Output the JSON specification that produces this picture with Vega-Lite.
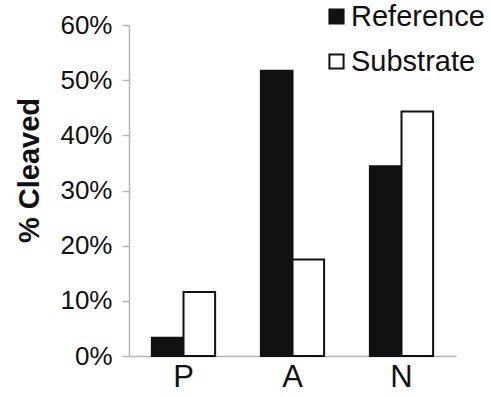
{
  "$schema": "https://vega.github.io/schema/vega-lite/v6.json",
  "width": 327,
  "height": 331,
  "autosize": {"type": "none"},
  "padding": {"left": 129, "top": 25, "right": 35, "bottom": 41},
  "background": "white",
  "config": {
    "view": {"stroke": null},
    "font": "Liberation Sans"
  },
  "data": {
    "values": [
      {"site": "P", "type": "Reference", "value": 0.033},
      {"site": "P", "type": "Substrate", "value": 0.116},
      {"site": "A", "type": "Reference", "value": 0.517},
      {"site": "A", "type": "Substrate", "value": 0.175},
      {"site": "N", "type": "Reference", "value": 0.344},
      {"site": "N", "type": "Substrate", "value": 0.443}
    ]
  },
  "mark": {"type": "bar", "stroke": "#111", "strokeWidth": 2},
  "encoding": {
    "x": {
      "field": "site",
      "type": "nominal",
      "sort": ["P", "A", "N"],
      "scale": {"paddingInner": 0.42, "paddingOuter": 0.21},
      "axis": {
        "title": null,
        "labelAngle": 0,
        "labelFontSize": 31,
        "labelColor": "#111",
        "labelPadding": 6,
        "ticks": false,
        "domainColor": "#b5b5b5",
        "domainWidth": 1.5
      }
    },
    "xOffset": {"field": "type", "type": "nominal", "sort": ["Reference", "Substrate"], "scale": {"paddingInner": 0}},
    "y": {
      "field": "value",
      "type": "quantitative",
      "scale": {"domain": [0, 0.6], "nice": false},
      "axis": {
        "title": "% Cleaved",
        "titleFontSize": 29,
        "titleFontWeight": "bold",
        "titleColor": "#111",
        "titleAngle": -90,
        "titleAlign": "center",
        "titleBaseline": "middle",
        "titleX": -100,
        "titleY": 145,
        "values": [0, 0.1, 0.2, 0.3, 0.4, 0.5, 0.6],
        "format": ".0%",
        "labelFontSize": 26,
        "labelColor": "#111",
        "labelPadding": 10,
        "tickSize": 7,
        "tickColor": "#b5b5b5",
        "tickWidth": 1.5,
        "domainColor": "#b5b5b5",
        "domainWidth": 1.5,
        "grid": false
      }
    },
    "color": {
      "field": "type",
      "type": "nominal",
      "sort": ["Reference", "Substrate"],
      "scale": {"domain": ["Reference", "Substrate"], "range": ["#111111", "#ffffff"]},
      "legend": {
        "title": null,
        "orient": "none",
        "legendX": 193,
        "legendY": -23,
        "symbolType": "square",
        "symbolSize": 200,
        "symbolStrokeColor": "#111",
        "symbolStrokeWidth": 2,
        "labelFontSize": 29,
        "labelColor": "#111",
        "labelOffset": 0,
        "rowPadding": 15
      }
    }
  }
}
